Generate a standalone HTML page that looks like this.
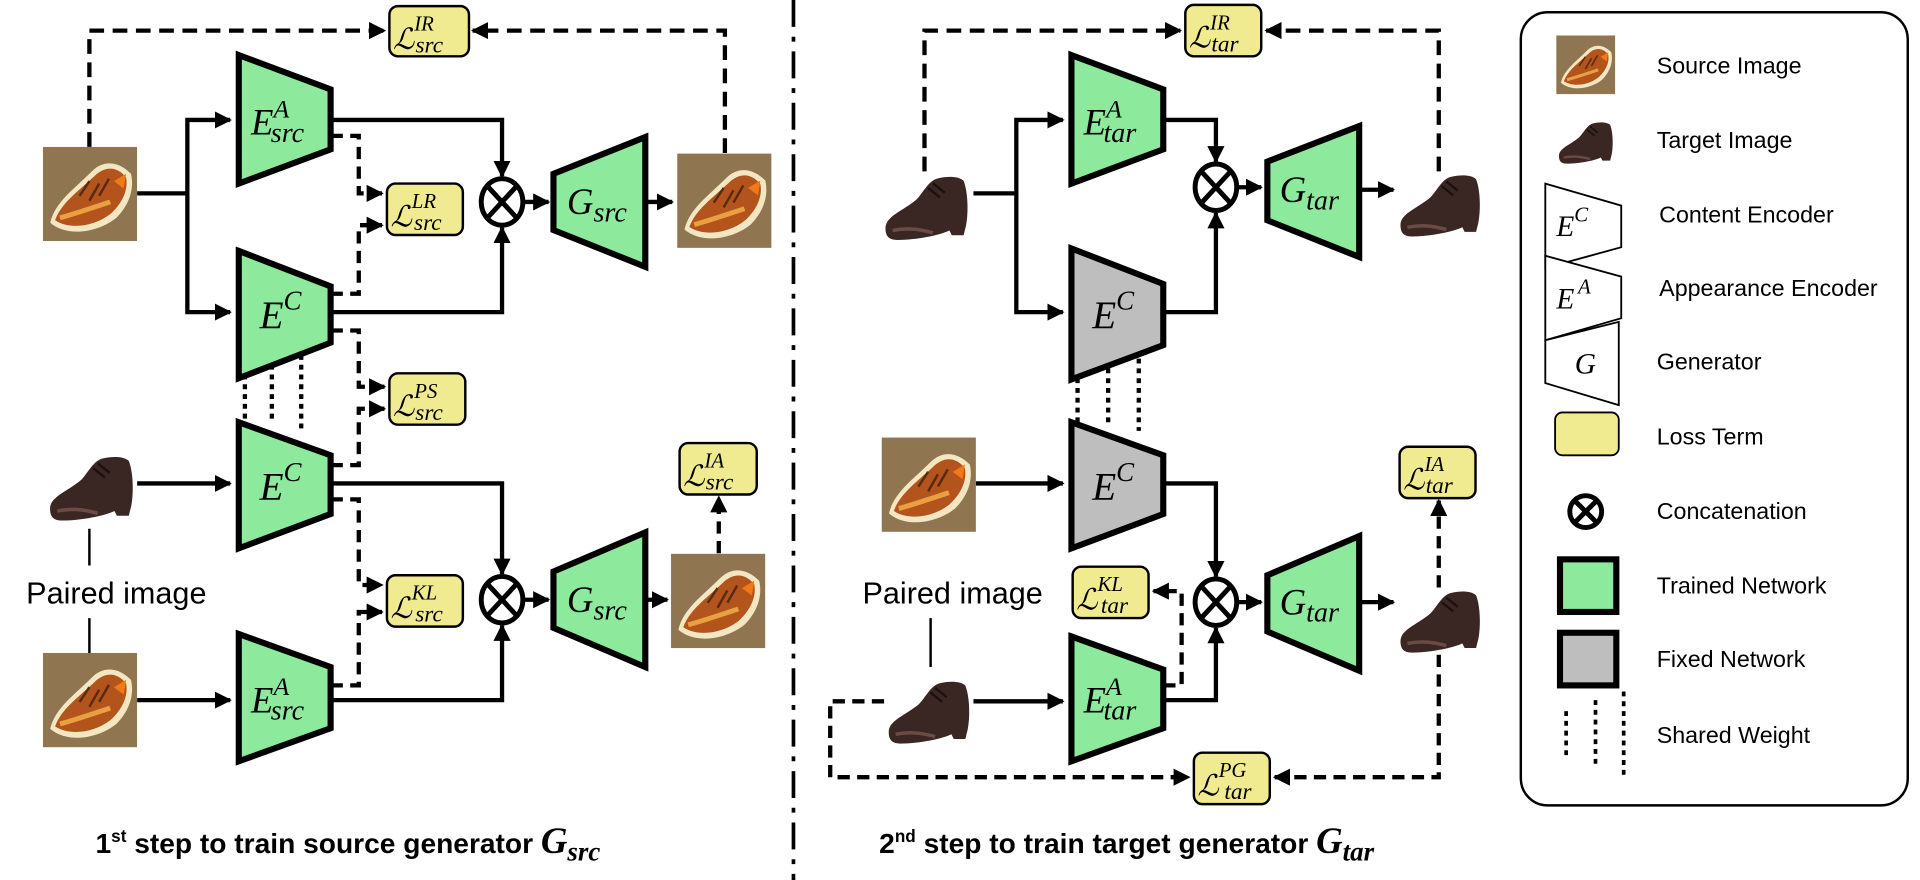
<!DOCTYPE html>
<html><head><meta charset="utf-8"><style>
html,body{margin:0;padding:0;background:#fff;}
svg{display:block;}
text{font-family:"Liberation Sans",sans-serif;}
.m text, text.m, tspan.m{font-family:"Liberation Serif","DejaVu Serif",serif;font-style:italic;}
</style></head><body>
<svg width="1920" height="880" viewBox="0 0 1568 719" preserveAspectRatio="none" xmlns="http://www.w3.org/2000/svg">
<defs>
<marker id="ar" viewBox="0 0 10 10" refX="9" refY="5" markerWidth="4" markerHeight="4" orient="auto" markerUnits="strokeWidth"><path d="M0,0 L10,5 L0,10 z" fill="#000"/></marker>
<symbol id="src" viewBox="0 0 77 77"><rect width="77" height="77" fill="#8f7650"/>
<path d="M6,62 C10,45 25,35 40,20 C48,12 60,10 72,22 C75,35 70,48 60,58 C45,70 20,74 6,62z" fill="#f3e7c3"/>
<path d="M10,60 C15,46 28,37 42,24 C50,16 60,15 68,25 C70,36 64,47 55,55 C42,65 22,68 10,60z" fill="#b3541c"/>
<path d="M14,58 C25,55 40,50 55,45" stroke="#e8a040" stroke-width="4" fill="none"/>
<path d="M30,40 L38,28 M38,44 L46,30 M46,40 L54,26" stroke="#5a2a10" stroke-width="2"/>
<path d="M58,28 L68,22 L66,34z" fill="#f07a18"/></symbol>
<symbol id="tar" viewBox="0 0 77 60"><path d="M4,48 C4,38 18,34 30,24 C36,18 40,8 48,6 C56,4 66,4 70,8 C74,18 74,36 72,46 L70,54 L60,54 L58,50 C50,54 30,58 14,58 C6,58 4,54 4,48z" fill="#3a2622"/>
<path d="M10,50 C20,48 30,48 44,52" stroke="#6b4c45" stroke-width="3" fill="none"/>
<path d="M40,14 L50,22 M44,10 L54,18" stroke="#1a100e" stroke-width="2"/></symbol>
</defs>
<g stroke="#000" stroke-width="3.5" fill="none">
<path d="M73,120 V25 H314" stroke-dasharray="12,7" marker-end="url(#ar)"/>
<path d="M592,125 V25 H386" stroke-dasharray="12,7" marker-end="url(#ar)"/>
<path d="M112,158 H153 V98 H188" marker-end="url(#ar)"/>
<path d="M153,158 V255 H188" marker-end="url(#ar)"/>
<path d="M270,98 H410 V144" marker-end="url(#ar)"/>
<path d="M270,255 H410 V186" marker-end="url(#ar)"/>
<path d="M270,111 H293 V158 H312" stroke-dasharray="10,6" marker-end="url(#ar)"/>
<path d="M270,240 H293 V184 H312" stroke-dasharray="10,6" marker-end="url(#ar)"/>
<path d="M270,270 H293 V316 H314" stroke-dasharray="10,6" marker-end="url(#ar)"/>
<path d="M270,380 H293 V334 H314" stroke-dasharray="10,6" marker-end="url(#ar)"/>
<path d="M428,165 H448" marker-end="url(#ar)"/>
<path d="M527,165 H549" marker-end="url(#ar)"/>
<path d="M112,395 H188" marker-end="url(#ar)"/>
<path d="M112,572 H188" marker-end="url(#ar)"/>
<path d="M270,395 H410 V469" marker-end="url(#ar)"/>
<path d="M270,572 H410 V511" marker-end="url(#ar)"/>
<path d="M270,408 H293 V478 H312" stroke-dasharray="10,6" marker-end="url(#ar)"/>
<path d="M270,560 H293 V500 H312" stroke-dasharray="10,6" marker-end="url(#ar)"/>
<path d="M428,490 H448" marker-end="url(#ar)"/>
<path d="M527,490 H545" marker-end="url(#ar)"/>
<path d="M587,452 V406" stroke-dasharray="10,6" marker-end="url(#ar)"/>
<path d="M200,290 V345 M222,290 V345 M246,290 V352" stroke-dasharray="4,4"/>
<path d="M73,432 V462 M73,505 V535" stroke-width="2"/>
<path d="M648,0 V719" stroke-width="3" stroke-dasharray="22,8,4,8"/>
<path d="M755,140 V25 H964" stroke-dasharray="12,7" marker-end="url(#ar)"/>
<path d="M1175,140 V25 H1034" stroke-dasharray="12,7" marker-end="url(#ar)"/>
<path d="M795,158 H830 V98 H868" marker-end="url(#ar)"/>
<path d="M830,158 V255 H868" marker-end="url(#ar)"/>
<path d="M950,98 H993 V132" marker-end="url(#ar)"/>
<path d="M950,255 H993 V174" marker-end="url(#ar)"/>
<path d="M1011,153 H1030" marker-end="url(#ar)"/>
<path d="M1110,155 H1138" marker-end="url(#ar)"/>
<path d="M880,285 V345 M905,285 V345 M930,285 V352" stroke-dasharray="4,4"/>
<path d="M797,395 H868" marker-end="url(#ar)"/>
<path d="M950,395 H993 V471" marker-end="url(#ar)"/>
<path d="M795,573 H868" marker-end="url(#ar)"/>
<path d="M950,572 H993 V513" marker-end="url(#ar)"/>
<path d="M950,560 H965 V483 H942" stroke-dasharray="10,6" marker-end="url(#ar)"/>
<path d="M1011,492 H1030" marker-end="url(#ar)"/>
<path d="M1110,492 H1138" marker-end="url(#ar)"/>
<path d="M1175,480 V409" stroke-dasharray="10,6" marker-end="url(#ar)"/>
<path d="M1175,535 V635 H1041" stroke-dasharray="10,6" marker-end="url(#ar)"/>
<path d="M722,573 H678 V635 H971" stroke-dasharray="10,6" marker-end="url(#ar)"/>
<path d="M760,505 V545" stroke-width="2"/>
</g>
<use href="#src" x="35" y="120" width="77" height="77"/>
<use href="#src" x="553" y="125" width="77" height="78"/>
<use href="#tar" x="37" y="368" width="75" height="60"/>
<use href="#src" x="35" y="533" width="77" height="78"/>
<use href="#src" x="548" y="452" width="77" height="78"/>
<use href="#tar" x="718" y="140" width="77" height="58"/>
<use href="#tar" x="1140" y="138" width="72" height="58"/>
<use href="#src" x="720" y="357" width="77" height="78"/>
<use href="#tar" x="722" y="552" width="73" height="58"/>
<use href="#tar" x="1140" y="478" width="72" height="58"/>
<g stroke="#000" stroke-width="5" stroke-linejoin="miter">
<polygon points="195,45 270,73 270,122 195,150" fill="#8de99c"/>
<polygon points="195,205 270,234 270,280 195,309" fill="#8de99c"/>
<polygon points="195,345 270,372 270,420 195,448" fill="#8de99c"/>
<polygon points="195,518 270,545 270,595 195,622" fill="#8de99c"/>
<polygon points="452,142 527,112 527,218 452,188" fill="#8de99c"/>
<polygon points="452,467 527,435 527,545 452,513" fill="#8de99c"/>
<polygon points="875,45 950,73 950,122 875,150" fill="#8de99c"/>
<polygon points="875,203 950,232 950,282 875,310" fill="#bebebe"/>
<polygon points="875,345 950,372 950,420 875,448" fill="#bebebe"/>
<polygon points="875,520 950,547 950,595 875,622" fill="#8de99c"/>
<polygon points="1035,132 1110,103 1110,210 1035,180" fill="#8de99c"/>
<polygon points="1035,470 1110,438 1110,548 1035,516" fill="#8de99c"/>
</g>
<g stroke="#000" stroke-width="4" fill="#fff">
<ellipse cx="410" cy="165" rx="17" ry="19"/><path d="M398,152 L422,178 M422,152 L398,178"/>
<ellipse cx="410" cy="490" rx="17" ry="19"/><path d="M398,477 L422,503 M422,477 L398,503"/>
<ellipse cx="993" cy="153" rx="17" ry="19"/><path d="M981,140 L1005,166 M1005,140 L981,166"/>
<ellipse cx="993" cy="492" rx="17" ry="19"/><path d="M981,479 L1005,505 M1005,479 L981,505"/>
</g>
<g fill="#f0ea90" stroke="#000" stroke-width="2">
<rect x="318" y="5" width="65" height="41" rx="7"/>
<rect x="316" y="150" width="62" height="42" rx="7"/>
<rect x="318" y="305" width="62" height="42" rx="7"/>
<rect x="316" y="470" width="62" height="42" rx="7"/>
<rect x="555" y="362" width="63" height="42" rx="7"/>
<rect x="968" y="4" width="62" height="42" rx="7"/>
<rect x="876" y="463" width="62" height="42" rx="7"/>
<rect x="1143" y="365" width="62" height="42" rx="7"/>
<rect x="975" y="615" width="62" height="42" rx="7"/>
</g>
<g class="m" font-size="24">
<text x="321" y="40">ℒ<tspan font-size="17" dy="-15">IR</tspan><tspan font-size="19" dx="-15" dy="18">src</tspan></text>
<text x="319" y="185">ℒ<tspan font-size="17" dy="-15">LR</tspan><tspan font-size="19" dx="-18" dy="18">src</tspan></text>
<text x="321" y="340">ℒ<tspan font-size="17" dy="-15">PS</tspan><tspan font-size="19" dx="-18" dy="18">src</tspan></text>
<text x="319" y="505">ℒ<tspan font-size="17" dy="-15">KL</tspan><tspan font-size="19" dx="-18" dy="18">src</tspan></text>
<text x="558" y="397">ℒ<tspan font-size="17" dy="-15">IA</tspan><tspan font-size="19" dx="-15" dy="18">src</tspan></text>
<text x="971" y="39">ℒ<tspan font-size="17" dy="-15">IR</tspan><tspan font-size="19" dx="-15" dy="18">tar</tspan></text>
<text x="879" y="498">ℒ<tspan font-size="17" dy="-15">KL</tspan><tspan font-size="19" dx="-18" dy="18">tar</tspan></text>
<text x="1146" y="400">ℒ<tspan font-size="17" dy="-15">IA</tspan><tspan font-size="19" dx="-15" dy="18">tar</tspan></text>
<text x="978" y="650">ℒ<tspan font-size="17" dy="-15">PG</tspan><tspan font-size="19" dx="-18" dy="18">tar</tspan></text>
<text x="205" y="110" font-size="30">E<tspan font-size="21" dy="-14">A</tspan><tspan font-size="23" dx="-15" dy="20">src</tspan></text>
<text x="212" y="268" font-size="32">E<tspan font-size="22" dy="-15">C</tspan></text>
<text x="212" y="408" font-size="32">E<tspan font-size="22" dy="-15">C</tspan></text>
<text x="205" y="582" font-size="30">E<tspan font-size="21" dy="-14">A</tspan><tspan font-size="23" dx="-15" dy="20">src</tspan></text>
<text x="463" y="175" font-size="30">G<tspan font-size="23" dy="6">src</tspan></text>
<text x="463" y="500" font-size="30">G<tspan font-size="23" dy="6">src</tspan></text>
<text x="885" y="110" font-size="30">E<tspan font-size="21" dy="-14">A</tspan><tspan font-size="23" dx="-15" dy="20">tar</tspan></text>
<text x="892" y="268" font-size="32">E<tspan font-size="22" dy="-15">C</tspan></text>
<text x="892" y="408" font-size="32">E<tspan font-size="22" dy="-15">C</tspan></text>
<text x="885" y="582" font-size="30">E<tspan font-size="21" dy="-14">A</tspan><tspan font-size="23" dx="-15" dy="20">tar</tspan></text>
<text x="1045" y="165" font-size="30">G<tspan font-size="23" dy="6">tar</tspan></text>
<text x="1045" y="502" font-size="30">G<tspan font-size="23" dy="6">tar</tspan></text>
</g>
<text x="95" y="493" font-size="25" text-anchor="middle">Paired image</text>
<text x="778" y="493" font-size="25" text-anchor="middle">Paired image</text>
<text x="78" y="697" font-size="23" font-weight="bold">1<tspan font-size="14" dy="-9">st</tspan><tspan dy="9"> step to train source generator </tspan><tspan class="m" font-size="30">G</tspan><tspan class="m" font-size="22" dy="6">src</tspan></text>
<text x="718" y="697" font-size="23" font-weight="bold">2<tspan font-size="14" dy="-9">nd</tspan><tspan dy="9"> step to train target generator </tspan><tspan class="m" font-size="30">G</tspan><tspan class="m" font-size="22" dy="6">tar</tspan></text>
<rect x="1242" y="10" width="316" height="648" rx="22" fill="none" stroke="#000" stroke-width="2"/>
<use href="#src" x="1270" y="29" width="50" height="48"/>
<use href="#tar" x="1270" y="97" width="50" height="38"/>
<g stroke="#000" stroke-width="1.5" fill="#fff">
<polygon points="1262,150 1324,168 1324,202 1262,219"/>
<polygon points="1262,209 1324,226 1324,260 1262,278"/>
<polygon points="1262,278 1322,263 1322,331 1262,313"/>
</g>
<g class="m" font-size="24">
<text x="1271" y="193">E<tspan font-size="17" dy="-12">C</tspan></text>
<text x="1271" y="252">E<tspan font-size="17" dy="-12" dx="3">A</tspan></text>
<text x="1286" y="305">G</text>
</g>
<rect x="1270" y="337" width="52" height="35" rx="6" fill="#f0ea90" stroke="#000" stroke-width="1.5"/>
<g stroke="#000" stroke-width="4" fill="#fff"><circle cx="1295" cy="418" r="13"/><path d="M1286,409 L1304,427 M1304,409 L1286,427"/></g>
<rect x="1274" y="457" width="46" height="43" fill="#8de99c" stroke="#000" stroke-width="5"/>
<rect x="1274" y="517" width="46" height="43" fill="#bebebe" stroke="#000" stroke-width="5"/>
<path d="M1279,581 V618 M1303,572 V628 M1326,565 V635" stroke="#000" stroke-width="3" stroke-dasharray="4,4"/>
<g font-size="19">
<text x="1353" y="60">Source Image</text>
<text x="1353" y="121">Target Image</text>
<text x="1355" y="182">Content Encoder</text>
<text x="1355" y="242">Appearance Encoder</text>
<text x="1353" y="302">Generator</text>
<text x="1353" y="363">Loss Term</text>
<text x="1353" y="424">Concatenation</text>
<text x="1353" y="485">Trained Network</text>
<text x="1353" y="545">Fixed Network</text>
<text x="1353" y="607">Shared Weight</text>
</g>
</svg>
</body></html>
